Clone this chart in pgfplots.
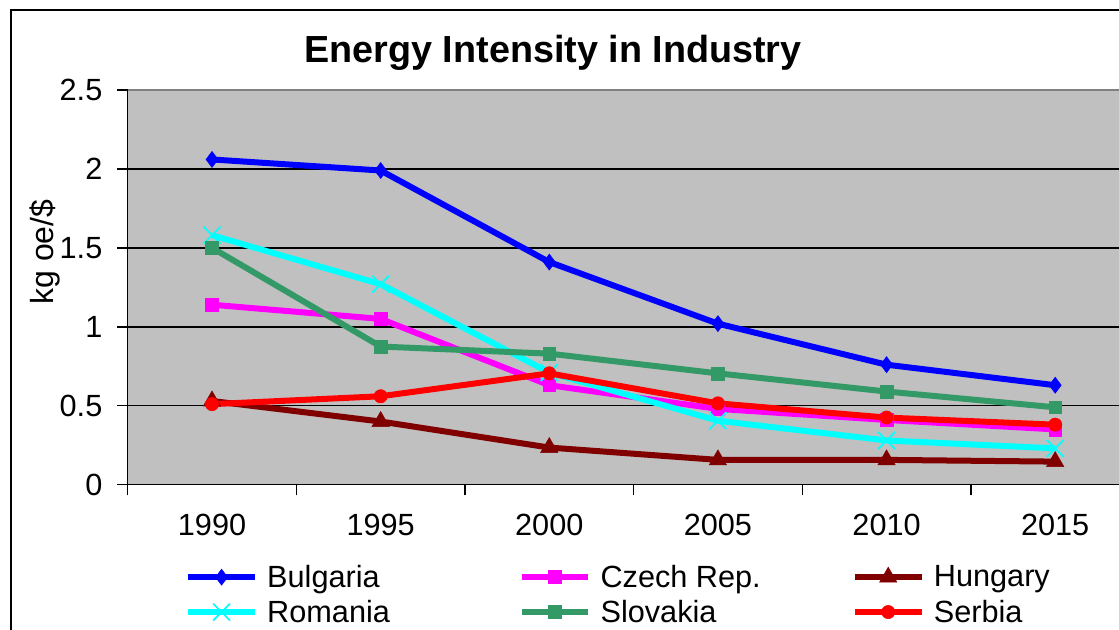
\documentclass[border=0pt]{standalone}
\usepackage{pgfplots}
\pgfplotsset{compat=1.18}
\usepackage{fontspec}
\setmainfont{Liberation Sans}
\definecolor{bgray}{RGB}{192,192,192}
\definecolor{bordergray}{RGB}{128,128,128}
\definecolor{cBul}{RGB}{0,0,255}
\definecolor{cCze}{RGB}{255,0,255}
\definecolor{cHun}{RGB}{128,0,0}
\definecolor{cRom}{RGB}{0,255,255}
\definecolor{cSlo}{RGB}{51,153,102}
\definecolor{cSer}{RGB}{255,0,0}
\begin{document}
\begin{tikzpicture}
\useasboundingbox (0,0) rectangle (839.25pt,-472.5pt);
\clip (0,0) rectangle (839.25pt,-472.5pt);
\draw[line width=1.1pt] (8.25pt,-900pt) -- (8.25pt,-7.5pt) -- (900pt,-7.5pt);
\node[font=\bfseries\fontsize{28.3}{34}\selectfont] at (414.75pt,-39.5pt) {Energy Intensity in Industry};
\node[rotate=90, font=\fontsize{24}{28}\selectfont] at (33.5pt,-189pt) {kg oe/\$};
\begin{axis}[
  at={(95.78pt,-67.5pt)}, anchor=north west,
  scale only axis, width=758.85pt, height=296pt,
  xmin=-0.5, xmax=5.5, ymin=0, ymax=2.5,
  axis lines*=left,
  axis line style={line width=1.1pt},
  axis background/.style={fill=bgray},
  xtick={-0.5,0.5,1.5,2.5,3.5,4.5},
  xticklabels={1990,1995,2000,2005,2010,2015},
  xticklabel style={xshift=63.24pt, yshift=-10.5pt},
  ytick={0,0.5,1,1.5,2,2.5},
  yticklabels={0,0.5,1,1.5,2,2.5},
  yticklabel style={xshift=-7.5pt},
  /pgf/number format/assume math mode=true,
  tick align=outside, major tick length=8pt,
  tick style={line width=1.1pt, black},
  ymajorgrids, grid style={line width=1.1pt, black},
  ticklabel style={font=\fontsize{23}{27}\selectfont},
  legend columns=3,
  legend style={draw=none, fill=none, at={(axis description cs:0.0566,-0.203)}, anchor=north west,
    inner sep=0pt, nodes={inner sep=0pt, font=\fontsize{23}{27}\selectfont},
    column sep=0pt, /tikz/every odd column/.append style={column sep=7pt}, row sep=8pt},
  legend image code/.code={\draw[mark repeat=2, mark phase=2, #1] plot coordinates {(0pt,0pt)(25pt,0pt)(50pt,0pt)};},
]
\addplot[color=cBul, line width=4.5pt, mark=diamond*, mark size=6pt, mark options={solid, line width=0.4pt}]
  coordinates {(0,2.06)(1,1.99)(2,1.41)(3,1.02)(4,0.76)(5,0.63)};
\addlegendentry{\makebox[188.5pt][l]{Bulgaria}}
\addplot[color=cCze, line width=4.5pt, mark=square*, mark size=4.8pt, mark options={solid, line width=0.4pt}]
  coordinates {(0,1.14)(1,1.05)(2,0.63)(3,0.48)(4,0.41)(5,0.35)};
\addlegendentry{\makebox[188.5pt][l]{Czech Rep.}}
\addplot[color=cHun, line width=4.5pt, mark=triangle*, mark size=7.5pt, mark options={solid, line width=0.4pt}]
  coordinates {(0,0.53)(1,0.40)(2,0.235)(3,0.157)(4,0.157)(5,0.146)};
\addlegendentry{\makebox[188.5pt][l]{Hungary}}
\addplot[color=cRom, line width=4.5pt, mark=x, mark size=9pt, mark options={solid, line width=1.3pt}]
  coordinates {(0,1.58)(1,1.27)(2,0.71)(3,0.405)(4,0.28)(5,0.23)};
\addlegendentry{\makebox[188.5pt][l]{Romania}}
\addplot[color=cSlo, line width=4.5pt, mark=square*, mark size=4.8pt, mark options={solid, line width=0.4pt}]
  coordinates {(0,1.50)(1,0.875)(2,0.83)(3,0.705)(4,0.59)(5,0.49)};
\addlegendentry{\makebox[188.5pt][l]{Slovakia}}
\addplot[color=cSer, line width=4.5pt, mark=*, mark size=5pt, mark options={solid, line width=0.4pt}]
  coordinates {(0,0.51)(1,0.56)(2,0.705)(3,0.515)(4,0.425)(5,0.38)};
\addlegendentry{\makebox[188.5pt][l]{Serbia}}
\draw[line width=1.1pt, bordergray] (rel axis cs:0,1) -- (rel axis cs:1,1);
\end{axis}
\end{tikzpicture}
\end{document}
